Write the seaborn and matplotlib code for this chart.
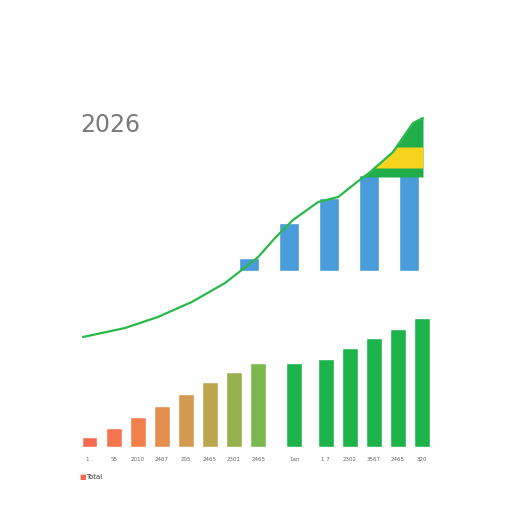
import numpy as np
import pandas as pd
import seaborn as sns
import matplotlib.pyplot as plt

# bottom bar series
bottom_labels = ["1 .", "55", "2010", "2467", "205", "2465", "2301", "2465",
                 "1an", "1 7", "2302", "3567", "2465", "320"]
bottom_values = [10, 19, 30, 41, 53, 65, 75, 84, 84, 88, 99, 109, 118, 129]
bottom_colors = ["#f46b4f", "#f4764e", "#f2804c", "#e48f4f", "#d49a50", "#bba54f",
                 "#98b04e", "#7bb84d", "#1db34b", "#1db34b", "#1db34b", "#1db34b",
                 "#1db34b", "#1db34b"]
# slot positions (layout only)
bottom_pos = [0, 1, 2, 3, 4, 5, 6, 7, 8.5, 9.8, 10.8, 11.8, 12.8, 13.8]

# upper blue bars and trend curve
top_values = [13, 48, 73, 96, 104]
curve_x = [-4.15, -3.1, -2.28, -1.43, -0.6, -0.18, 0.23, 0.65, 1.1, 1.73,
           2.23, 2.7, 3.03, 3.6, 4.1, 4.35]
curve_y = [-66, -57, -46, -31, -12, 1, 14, 33, 51, 69, 74, 89, 99, 119, 148, 153]

sns.set_style("white")
fig = plt.figure(figsize=(5.12, 5.12), dpi=100)

# ---- bottom bars ----
axb = fig.add_axes([70/512, (512-447)/512, 370/512, 147/512])
dfb = pd.DataFrame({"pos": bottom_pos, "value": bottom_values,
                    "idx": [str(i) for i in range(len(bottom_values))]})
sns.barplot(data=dfb, x="pos", y="value", hue="idx", palette=bottom_colors,
            native_scale=True, dodge=False, width=0.66, legend=False, ax=axb,
            saturation=1)
axb.set_xlim(-0.81, 14.54)
axb.set_ylim(0, 147)
axb.set_xticks(bottom_pos)
axb.set_xticklabels(bottom_labels, fontsize=4, color="#666666")
axb.tick_params(axis="x", length=0, pad=7)
axb.set_yticks([])
axb.set_xlabel("")
axb.set_ylabel("")
sns.despine(ax=axb, left=True, bottom=True)
axb.patch.set_alpha(0)

# ---- top bars + curve ----
axt = fig.add_axes([70/512, (512-345)/512, 370/512, 245/512])
dft = pd.DataFrame({"pos": list(range(len(top_values))), "value": top_values})
sns.barplot(data=dft, x="pos", y="value", color="#4a9bd9", saturation=1,
            native_scale=True, width=0.52, ax=axt)

xs = np.linspace(2.5, 4.35, 300)
yl = np.interp(xs, curve_x, curve_y)
axt.fill_between(xs, 94, yl, where=yl > 94, interpolate=True, color="#1fae4a", lw=0)
axt.fill_between(xs, 103, np.minimum(yl, 124), where=yl > 103, interpolate=True,
                 color="#f6d31c", lw=0)

sns.lineplot(x=curve_x, y=curve_y, color="#2bb84a", lw=1.6, ax=axt)
axt.set_xlim(-4.475, 4.775)
axt.set_ylim(-74, 171)
axt.set_xticks([])
axt.set_yticks([])
axt.set_xlabel("")
axt.set_ylabel("")
sns.despine(ax=axt, left=True, bottom=True)
axt.patch.set_alpha(0)

# ---- texts ----
fig.text(80/512, 1 - 125/512, "2026", fontsize=17, color="#7a7a7a", va="center")
fig.text(79/512, 1 - 477/512, "\u25a0", fontsize=5, color="#f46b4f", va="center")
fig.text(86/512, 1 - 477/512, "Total", fontsize=5, color="#333333", va="center")

fig.savefig("out.png", dpi=100)
